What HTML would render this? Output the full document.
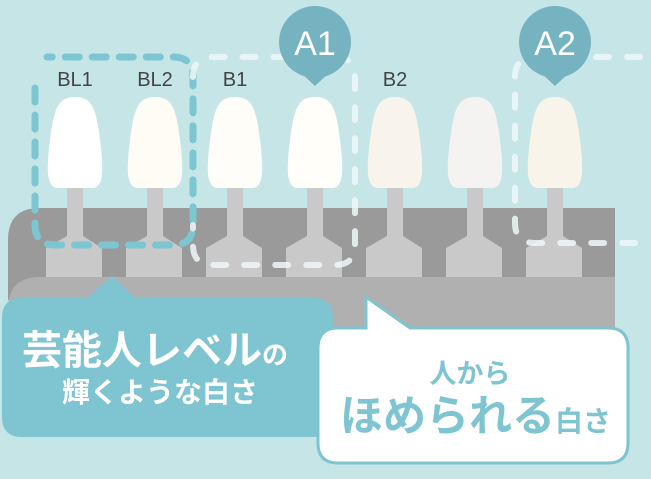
<!DOCTYPE html>
<html><head><meta charset="utf-8"><style>
html,body{margin:0;padding:0;background:#c6e5e7;}
svg{display:block;}
text{font-family:"Liberation Sans","Noto Sans CJK JP",sans-serif;}
</style></head><body>
<svg width="651" height="479" viewBox="0 0 651 479" xmlns="http://www.w3.org/2000/svg">
<rect width="651" height="479" fill="#c6e5e7"/>
<path d="M40 208 H615 V300 H8 V240 Q8 208 40 208 Z" fill="#9a9a9a"/>
<path d="M40 277 H615 V360 H8 V309 Q8 277 40 277 Z" fill="#b0b0b0"/>
<g fill="#c9c9c9">
<g id="s"><rect x="67" y="180" width="16" height="58"/><path d="M67 236 L83 236 L102 248 V277 H46 V248 Z"/></g>
<use href="#s" x="80"/><use href="#s" x="160"/><use href="#s" x="240"/><use href="#s" x="320"/><use href="#s" x="400"/><use href="#s" x="480"/>
</g>
<defs>
<path id="t" d="M75 97 C58 97 54 108 50 140 C47 165 45 188 58 188 H92 C105 188 103 165 100 140 C96 108 92 97 75 97 Z"/>
</defs>
<use href="#t" fill="#ffffff"/>
<use href="#t" x="80" fill="#fefcf5"/>
<use href="#t" x="160" fill="#fffdf7"/>
<use href="#t" x="240" fill="#fffef9"/>
<use href="#t" x="320" fill="#f8f4ec"/>
<use href="#t" x="400" fill="#f4f3f2"/>
<use href="#t" x="480" fill="#f9f4ea"/>
<path d="M35 88 V225 Q35 245 55 245 H173 Q193 245 193 225 V77 Q193 57 173 57 H47" fill="none" stroke="#7cc6d2" stroke-width="7" stroke-linecap="round" stroke-dasharray="14 13"/>
<path d="M193 77 Q193 57 213 57 H335 Q355 57 355 77 V245 Q355 265 335 265 H213 Q193 265 193 245 V225" fill="none" stroke="#eef7f8" stroke-opacity="0.85" stroke-width="6" stroke-linecap="round" stroke-dasharray="13 18"/>
<path d="M640 57 H535 Q515 57 515 77 V223 Q515 243 535 243 H640" fill="none" stroke="#eef7f8" stroke-opacity="0.85" stroke-width="6" stroke-linecap="round" stroke-dasharray="13 18"/>
<g font-size="20" fill="#444" text-anchor="middle">
<text x="75" y="86">BL1</text><text x="155" y="86">BL2</text><text x="235" y="86">B1</text><text x="395" y="86">B2</text>
</g>
<g fill="#76b3c0">
<circle cx="315" cy="42" r="36"/><path d="M300 72 L315 86 L330 72 Z"/>
<circle cx="555" cy="42" r="36"/><path d="M540 72 L555 86 L570 72 Z"/>
</g>
<g font-size="34" fill="#fff" text-anchor="middle"><text x="315" y="55">A1</text><text x="555" y="55">A2</text></g>
<path d="M22 298 H87 L112 276 L135 298 H313 Q333 298 333 318 V417 Q333 437 313 437 H22 Q2 437 2 417 V318 Q2 298 22 298 Z" fill="#7fc4d1"/>
<text x="22" y="364" font-size="40" font-weight="bold" fill="#fff">芸能人レベル<tspan font-size="26">の</tspan></text>
<text x="160" y="402" font-size="28" fill="#fff" text-anchor="middle" font-weight="bold">輝くような白さ</text>
<path d="M338 328 H366 V297 L410 328 H608 Q628 328 628 348 V443 Q628 463 608 463 H338 Q318 463 318 443 V348 Q318 328 338 328 Z" fill="#fff" stroke="#7fc4d1" stroke-width="3"/>
<text x="470" y="383" font-size="27" font-weight="bold" fill="#7fc4d1" text-anchor="middle">人から</text>
<text x="340" y="431" font-size="43" font-weight="bold" fill="#7fc4d1">ほめられる<tspan font-size="28">白さ</tspan></text>
</svg>
</body></html>
